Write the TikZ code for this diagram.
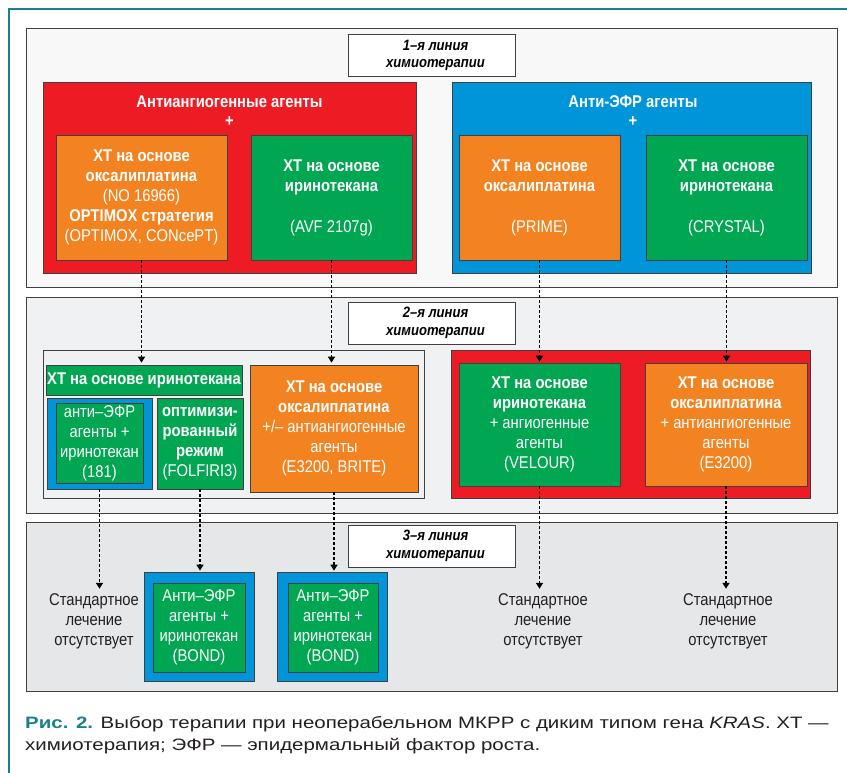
\documentclass[tikz,border=0pt]{standalone}
\usepackage{fontspec}
\setmainfont{Liberation Sans}
\newfontfamily\nr{Liberation Sans}[FakeStretch=0.87]
\newfontfamily\capfont{Liberation Sans}[FakeStretch=1.24]
\usetikzlibrary{arrows.meta}
\definecolor{kred}{HTML}{ED1C24}
\definecolor{korange}{HTML}{F38321}
\definecolor{kgreen}{HTML}{00A651}
\definecolor{kblue}{HTML}{0095D9}
\definecolor{kteal}{HTML}{1B7F8E}
\definecolor{kdark}{HTML}{231F20}
\definecolor{sone}{HTML}{F8F8F8}
\definecolor{stwo}{HTML}{F0F1F2}
\definecolor{sthree}{HTML}{E6E7E8}
\begin{document}
\begin{tikzpicture}[x=1pt,y=-1pt,
  sec/.style={draw=black!75, line width=0.9pt, inner sep=0pt},
  box/.style={draw=black!75, line width=0.7pt, inner sep=0pt, align=center, text=white, font=\nr\fontsize{17}{20}\selectfont},
  lab/.style={draw=black!75, fill=white, line width=0.9pt, inner sep=0pt, align=center, minimum width=167pt, minimum height=42pt, font=\nr\fontsize{15}{17.5}\selectfont\bfseries\itshape},
  ttl/.style={align=center, text=white, font=\nr\fontsize{17}{19}\selectfont\bfseries},
  std/.style={align=center, text=kdark, font=\nr\fontsize{17}{20}\selectfont},
  arr/.style={densely dashed, line width=1.5pt, -{Triangle[width=7pt,length=6pt]}}]
\useasboundingbox[fill=white] (0,0) rectangle (847,773);
\draw[kteal, line width=2pt] (9,773) -- (9,9) -- (847,9);
\node[sec, fill=sone, minimum width=811pt, minimum height=259pt] (sec1) at (431.5,157.5){};
\node[sec, fill=stwo, minimum width=811pt, minimum height=216pt] (sec2) at (431.5,405){};
\node[sec, fill=sthree, minimum width=811pt, minimum height=169pt] (sec3) at (431.5,606.5){};
\node[lab] (lab1) at (431.5,55.5){\hspace*{8pt}1–я линия\\\hspace*{8pt}химиотерапии};
\node[lab] (lab2) at (431.5,323){\hspace*{8pt}2–я линия\\\hspace*{8pt}химиотерапии};
\node[lab] (lab3) at (431.5,546){\hspace*{8pt}3–я линия\\\hspace*{8pt}химиотерапии};
\node[box, fill=kred, minimum width=373pt, minimum height=191pt] (r1) at (229.5,177.5){};
\node[ttl] (t1) at (229.5,111){Антиангиогенные агенты\\+};
\node[box, fill=korange, minimum width=171pt, minimum height=125pt] (o1) at (141.5,197.5){\textbf{ХТ на основе}\\\textbf{оксалиплатина}\\(NO 16966)\\\textbf{OPTIMOX стратегия}\\(OPTIMOX, CONcePT)};
\node[box, fill=kgreen, minimum width=161pt, minimum height=125pt] (g1) at (331.5,197.5){\textbf{ХТ на основе}\\\textbf{иринотекана}\\[21pt](AVF 2107g)};
\node[box, fill=kblue, minimum width=359pt, minimum height=191pt] (b1) at (631.5,177.5){};
\node[ttl] (t2) at (633,111){Анти-ЭФР агенты\\+};
\node[box, fill=korange, minimum width=161pt, minimum height=125pt] (o3) at (539.5,197.5){\textbf{ХТ на основе}\\\textbf{оксалиплатина}\\[21pt](PRIME)};
\node[box, fill=kgreen, minimum width=161pt, minimum height=125pt] (g3) at (726.5,197.5){\textbf{ХТ на основе}\\\textbf{иринотекана}\\[21pt](CRYSTAL)};
\node[sec, fill=stwo, minimum width=381pt, minimum height=148pt] (in2) at (233.5,424){};
\node[box, fill=kgreen, minimum width=196pt, minimum height=30pt] (gh) at (144,380){\textbf{ХТ на основе иринотекана}};
\node[box, fill=kblue, minimum width=105pt, minimum height=91pt] (b181) at (99.5,443.5){};
\node[box, fill=kgreen, minimum width=87pt, minimum height=80pt] (g181) at (99.5,443){анти–ЭФР\\агенты +\\иринотекан\\(181)};
\node[box, fill=kgreen, minimum width=86pt, minimum height=91pt] (gfol) at (200,443.5){\textbf{оптимизи-}\\\textbf{рованный}\\\textbf{режим}\\(FOLFIRI3)};
\node[box, fill=korange, minimum width=168pt, minimum height=127pt] (o2) at (334,428.5){\textbf{ХТ на основе}\\\textbf{оксалиплатина}\\+/– антиангиогенные\\агенты\\(E3200, BRITE)};
\node[box, fill=kred, minimum width=359pt, minimum height=148pt] (r2) at (630.5,424){};
\node[box, fill=kgreen, minimum width=161pt, minimum height=123pt] (gvel) at (539.5,424.5){\textbf{ХТ на основе}\\\textbf{иринотекана}\\+ ангиогенные\\агенты\\(VELOUR)};
\node[box, fill=korange, minimum width=162pt, minimum height=123pt] (oe32) at (726,424.5){\textbf{ХТ на основе}\\\textbf{оксалиплатина}\\+ антиангиогенные\\агенты\\(E3200)};
\node[box, fill=kblue, minimum width=110pt, minimum height=109pt] (bb1) at (199,626.5){};
\node[box, fill=kgreen, minimum width=92pt, minimum height=89pt] (bond1) at (199,627.5){Анти–ЭФР\\агенты +\\иринотекан\\(BOND)};
\node[box, fill=kblue, minimum width=110pt, minimum height=109pt] (bb2) at (332,626.5){};
\node[box, fill=kgreen, minimum width=90pt, minimum height=89pt] (bond2) at (333,627.5){Анти–ЭФР\\агенты +\\иринотекан\\(BOND)};
\node[std] (std1) at (94,621){Стандартное\\лечение\\отсутствует};
\node[std] (std2) at (543,621){Стандартное\\лечение\\отсутствует};
\node[std] (std3) at (728,621){Стандартное\\лечение\\отсутствует};
\node[anchor=north west, align=left, inner sep=0pt, text=kdark, font=\capfont\fontsize{16.5}{22}\selectfont] (cap) at (25,716){\textcolor{kteal}{\textbf{Рис. 2.}} Выбор терапии при неоперабельном МКРР с диким типом гена \textit{KRAS}. ХТ —\\химиотерапия; ЭФР — эпидермальный фактор роста.};
\draw[arr, shorten >=2pt](o1.south) -- (o1.south |- gh.north);
\draw[arr, shorten >=2pt](g1.south) -- (g1.south |- o2.north);
\draw[arr, shorten >=1pt](o3.south) -- (gvel.north);
\draw[arr, shorten >=1pt](g3.south) -- (g3.south |- oe32.north);
\draw[arr, shorten >=1pt](b181.south) -- (b181.south |- std1.north);
\draw[arr, shorten >=1pt](gfol.south) -- (gfol.south |- bb1.north);
\draw[arr, shorten >=1pt](o2.south) -- (o2.south |- bb2.north);
\draw[arr, shorten >=1pt](gvel.south) -- (gvel.south |- std2.north);
\draw[arr, shorten >=1pt](oe32.south) -- (oe32.south |- std3.north);
\end{tikzpicture}
\end{document}
